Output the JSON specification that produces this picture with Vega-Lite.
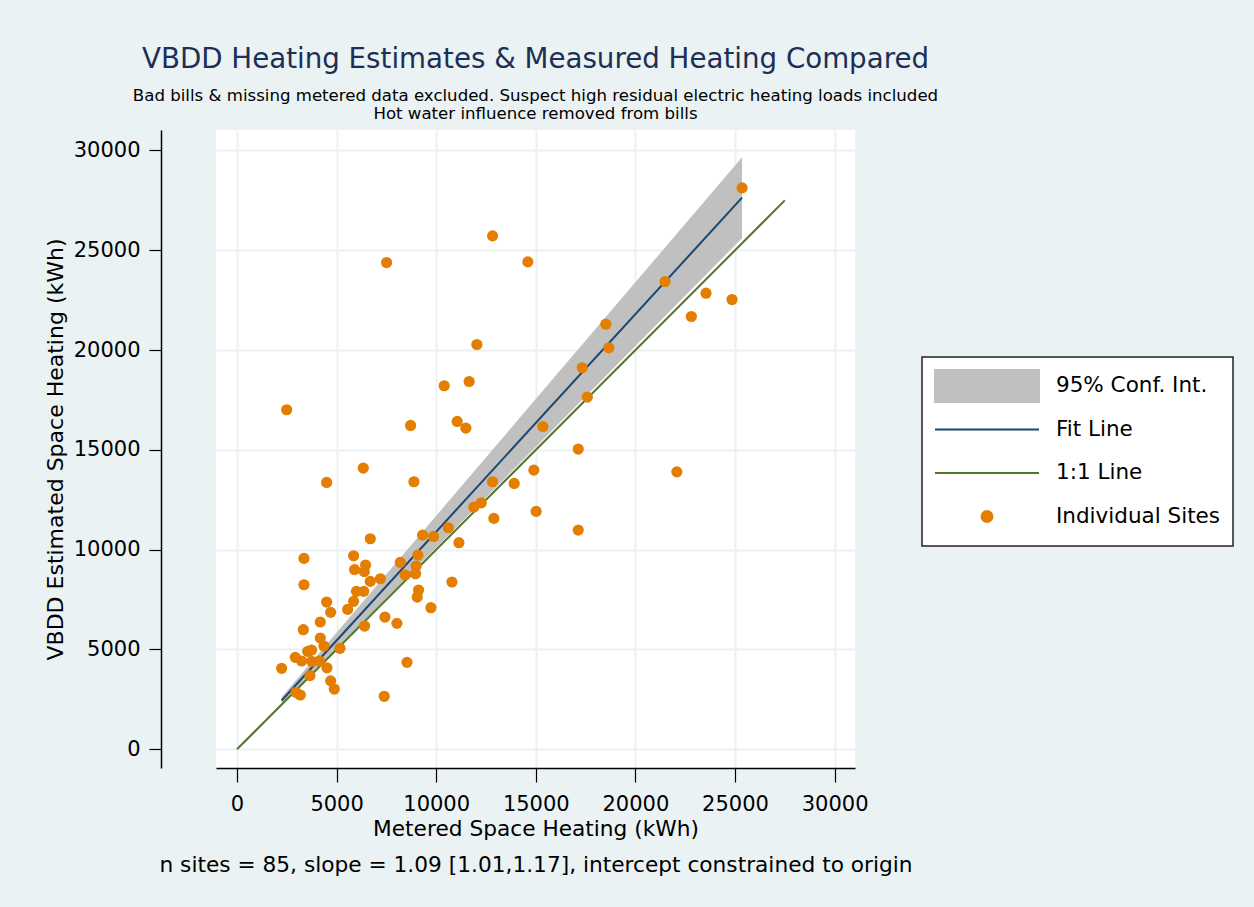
{
  "$schema": "https://vega.github.io/schema/vega-lite/v6.json",
  "autosize": {"type": "none"},
  "padding": {"left": 216, "top": 130, "right": 399, "bottom": 139},
  "width": 639,
  "height": 638,
  "background": "#eaf2f3",
  "title": {
    "text": "VBDD Heating Estimates & Measured Heating Compared",
    "subtitle": ["Bad bills & missing metered data excluded. Suspect high residual electric heating loads included", "Hot water influence removed from bills"],
    "font": "DejaVu Sans",
    "fontSize": 27.7,
    "fontWeight": "normal",
    "color": "#1c2f56",
    "subtitleFont": "DejaVu Sans",
    "subtitleFontSize": 16.6,
    "subtitleColor": "black",
    "subtitleLineHeight": 18,
    "subtitlePadding": 15,
    "anchor": "middle",
    "frame": "group",
    "offset": 7
  },
  "config": {
    "view": {"fill": "white", "stroke": null},
    "axis": {
      "labelFont": "DejaVu Sans",
      "titleFont": "DejaVu Sans",
      "labelColor": "black",
      "titleColor": "black",
      "titleFontWeight": "normal",
      "domainColor": "black",
      "tickColor": "black",
      "domainWidth": 1.5,
      "tickWidth": 1.2,
      "gridColor": "#eaf2f3",
      "gridWidth": 2,
      "gridOpacity": 1
    }
  },
  "data": {
    "values": [
      {"series": "95% Conf. Int.", "x": 2241, "y": 2263, "y2": 2622},
      {"series": "95% Conf. Int.", "x": 25355, "y": 25609, "y2": 29665},
      {"series": "Fit Line", "x": 2241, "y": 2443},
      {"series": "Fit Line", "x": 25355, "y": 27637},
      {"series": "1:1 Line", "x": 0, "y": 0},
      {"series": "1:1 Line", "x": 27500, "y": 27500},
      {"series": "Individual Sites", "x": 2494, "y": 17010},
      {"series": "Individual Sites", "x": 8715, "y": 16225},
      {"series": "Individual Sites", "x": 11055, "y": 16425},
      {"series": "Individual Sites", "x": 11490, "y": 16090},
      {"series": "Individual Sites", "x": 6339, "y": 14086},
      {"series": "Individual Sites", "x": 4500, "y": 13370},
      {"series": "Individual Sites", "x": 8881, "y": 13405},
      {"series": "Individual Sites", "x": 12829, "y": 13405},
      {"series": "Individual Sites", "x": 12895, "y": 11567},
      {"series": "Individual Sites", "x": 11890, "y": 12133},
      {"series": "Individual Sites", "x": 12260, "y": 12350},
      {"series": "Individual Sites", "x": 10610, "y": 11100},
      {"series": "Individual Sites", "x": 11140, "y": 10350},
      {"series": "Individual Sites", "x": 9316, "y": 10730},
      {"series": "Individual Sites", "x": 9866, "y": 10665},
      {"series": "Individual Sites", "x": 6690, "y": 10550},
      {"series": "Individual Sites", "x": 3362, "y": 9565},
      {"series": "Individual Sites", "x": 5854, "y": 9698},
      {"series": "Individual Sites", "x": 6454, "y": 9230},
      {"series": "Individual Sites", "x": 5903, "y": 9000},
      {"series": "Individual Sites", "x": 6390, "y": 8900},
      {"series": "Individual Sites", "x": 6690, "y": 8412},
      {"series": "Individual Sites", "x": 7200, "y": 8545},
      {"series": "Individual Sites", "x": 8195, "y": 9364},
      {"series": "Individual Sites", "x": 9082, "y": 9730},
      {"series": "Individual Sites", "x": 8996, "y": 9180},
      {"series": "Individual Sites", "x": 8966, "y": 8795},
      {"series": "Individual Sites", "x": 8445, "y": 8730},
      {"series": "Individual Sites", "x": 10790, "y": 8380},
      {"series": "Individual Sites", "x": 9115, "y": 7980},
      {"series": "Individual Sites", "x": 9047, "y": 7627},
      {"series": "Individual Sites", "x": 9734, "y": 7095},
      {"series": "Individual Sites", "x": 3362, "y": 8245},
      {"series": "Individual Sites", "x": 5995, "y": 7912},
      {"series": "Individual Sites", "x": 6362, "y": 7912},
      {"series": "Individual Sites", "x": 5854, "y": 7411},
      {"series": "Individual Sites", "x": 5553, "y": 7010},
      {"series": "Individual Sites", "x": 4500, "y": 7376},
      {"series": "Individual Sites", "x": 4701, "y": 6860},
      {"series": "Individual Sites", "x": 4180, "y": 6379},
      {"series": "Individual Sites", "x": 3328, "y": 5993},
      {"series": "Individual Sites", "x": 4180, "y": 5575},
      {"series": "Individual Sites", "x": 4365, "y": 5173},
      {"series": "Individual Sites", "x": 7426, "y": 6625},
      {"series": "Individual Sites", "x": 8028, "y": 6310},
      {"series": "Individual Sites", "x": 6406, "y": 6175},
      {"series": "Individual Sites", "x": 5168, "y": 5060},
      {"series": "Individual Sites", "x": 3546, "y": 4907},
      {"series": "Individual Sites", "x": 3746, "y": 4972},
      {"series": "Individual Sites", "x": 2926, "y": 4607},
      {"series": "Individual Sites", "x": 3245, "y": 4422},
      {"series": "Individual Sites", "x": 3746, "y": 4406},
      {"series": "Individual Sites", "x": 4130, "y": 4422},
      {"series": "Individual Sites", "x": 2241, "y": 4056},
      {"series": "Individual Sites", "x": 4516, "y": 4081},
      {"series": "Individual Sites", "x": 3663, "y": 3690},
      {"series": "Individual Sites", "x": 4701, "y": 3430},
      {"series": "Individual Sites", "x": 4885, "y": 3019},
      {"series": "Individual Sites", "x": 2960, "y": 2854},
      {"series": "Individual Sites", "x": 3178, "y": 2719},
      {"series": "Individual Sites", "x": 8535, "y": 4356},
      {"series": "Individual Sites", "x": 7391, "y": 2654},
      {"series": "Individual Sites", "x": 12829, "y": 25723},
      {"series": "Individual Sites", "x": 7510, "y": 24386},
      {"series": "Individual Sites", "x": 14600, "y": 24420},
      {"series": "Individual Sites", "x": 12042, "y": 20280},
      {"series": "Individual Sites", "x": 10402, "y": 18213},
      {"series": "Individual Sites", "x": 11655, "y": 18428},
      {"series": "Individual Sites", "x": 17330, "y": 19113},
      {"series": "Individual Sites", "x": 17586, "y": 17643},
      {"series": "Individual Sites", "x": 15353, "y": 16174},
      {"series": "Individual Sites", "x": 17130, "y": 15040},
      {"series": "Individual Sites", "x": 14902, "y": 13986},
      {"series": "Individual Sites", "x": 13915, "y": 13320},
      {"series": "Individual Sites", "x": 15017, "y": 11918},
      {"series": "Individual Sites", "x": 17130, "y": 10982},
      {"series": "Individual Sites", "x": 25355, "y": 28127},
      {"series": "Individual Sites", "x": 21490, "y": 23435},
      {"series": "Individual Sites", "x": 23545, "y": 22850},
      {"series": "Individual Sites", "x": 24850, "y": 22533},
      {"series": "Individual Sites", "x": 22810, "y": 21682},
      {"series": "Individual Sites", "x": 18515, "y": 21297},
      {"series": "Individual Sites", "x": 18665, "y": 20115},
      {"series": "Individual Sites", "x": 22080, "y": 13900}
    ]
  },
  "encoding": {
    "x": {
      "field": "x", "type": "quantitative",
      "scale": {"domain": [-1054, 31024], "nice": false, "zero": false},
      "axis": {
        "title": ["Metered Space Heating (kWh)", "n sites = 85, slope = 1.09 [1.01,1.17], intercept constrained to origin"],
        "titleFontSize": 21.7,
        "titleLineHeight": 36.5,
        "titlePadding": 4,
        "values": [0, 5000, 10000, 15000, 20000, 25000, 30000],
        "format": "d",
        "labelFontSize": 21,
        "tickSize": 14,
        "labelPadding": 11,
        "grid": true
      }
    },
    "y": {
      "field": "y", "type": "quantitative",
      "scale": {"domain": [-937, 31027], "nice": false, "zero": false},
      "axis": {
        "title": "VBDD Estimated Space Heating (kWh)",
        "titleFontSize": 22,
        "titlePadding": 6,
        "values": [0, 5000, 10000, 15000, 20000, 25000, 30000],
        "format": "d",
        "labelFontSize": 21,
        "tickSize": 12,
        "labelPadding": 9,
        "offset": 55,
        "grid": true
      }
    },
    "color": {
      "field": "series", "type": "nominal",
      "scale": {
        "domain": ["95% Conf. Int.", "Fit Line", "1:1 Line", "Individual Sites"],
        "range": ["#c0c0c0", "#1a476f", "#55752f", "#e37e00"]
      },
      "legend": {
        "orient": "none",
        "legendX": 706,
        "legendY": 227,
        "title": null,
        "fillColor": "white",
        "strokeColor": "#222222",
        "padding": 12,
        "symbolSize": 10816,
        "clipHeight": 34,
        "rowPadding": 9.5,
        "labelFont": "DejaVu Sans",
        "labelFontSize": 21.5,
        "labelColor": "black",
        "labelOffset": 16,
        "labelLimit": 400,
        "encode": {
          "legend": {"update": {"strokeWidth": {"value": 1.5}}},
          "symbols": {
            "update": {
              "shape": {"signal": "datum.value === '95% Conf. Int.' ? 'M-1,-0.317H1V0.317H-1Z' : datum.value === 'Individual Sites' ? 'circle' : 'stroke'"},
              "size": {"signal": "datum.value === 'Individual Sites' ? 120 : 10816"},
              "fill": {"signal": "datum.value === '95% Conf. Int.' ? '#c0c0c0' : datum.value === 'Individual Sites' ? '#e37e00' : 'transparent'"},
              "stroke": {"signal": "datum.value === 'Fit Line' ? '#1a476f' : datum.value === '1:1 Line' ? '#55752f' : 'transparent'"},
              "strokeWidth": {"value": 2},
              "opacity": {"value": 1},
              "fillOpacity": {"value": 1},
              "strokeOpacity": {"value": 1}
            }
          }
        }
      }
    }
  },
  "layer": [
    {
      "transform": [{"filter": "datum.series === '95% Conf. Int.'"}],
      "mark": {"type": "area", "opacity": 1},
      "encoding": {"y2": {"field": "y2"}}
    },
    {
      "transform": [{"filter": "datum.series === 'Fit Line'"}],
      "mark": {"type": "line", "strokeWidth": 2},
      "encoding": {}
    },
    {
      "transform": [{"filter": "datum.series === '1:1 Line'"}],
      "mark": {"type": "line", "strokeWidth": 2},
      "encoding": {}
    },
    {
      "transform": [{"filter": "datum.series === 'Individual Sites'"}],
      "mark": {"type": "circle", "size": 125, "opacity": 1},
      "encoding": {}
    }
  ]
}
